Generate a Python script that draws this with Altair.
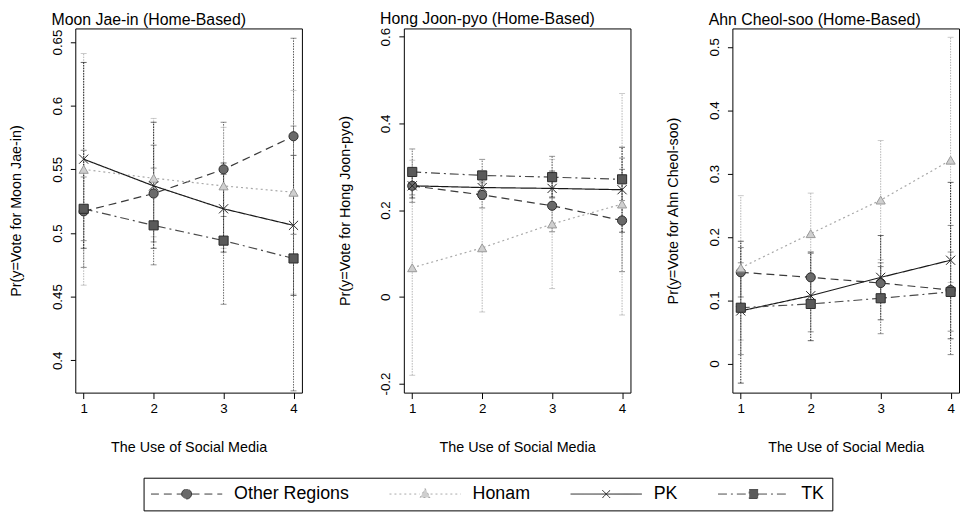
import altair as alt
import pandas as pd

# ---------------- data ----------------
X_LEVELS = [1, 2, 3, 4]
SERIES = ["Other Regions", "Honam", "PK", "TK"]
PANEL_TITLES = ["Moon Jae-in (Home-Based)", "Hong Joon-pyo (Home-Based)", "Ahn Cheol-soo (Home-Based)"]
Y_TITLES = ["Pr(y=Vote for Moon Jae-in)", "Pr(y=Vote for Hong Joon-pyo)", "Pr(y=Vote for Ahn Cheol-soo)"]
X_TITLE = "The Use of Social Media"

# Moon Jae-in
moon_other = [0.517, 0.531, 0.550, 0.576]
moon_other_lo = [0.473, 0.493, 0.513, 0.499]
moon_other_hi = [0.565, 0.569, 0.587, 0.653]
moon_honam = [0.550, 0.543, 0.537, 0.532]
moon_honam_lo = [0.459, 0.497, 0.488, 0.452]
moon_honam_hi = [0.641, 0.590, 0.583, 0.612]
moon_pk = [0.558, 0.537, 0.519, 0.506]
moon_pk_lo = [0.488, 0.488, 0.485, 0.451]
moon_pk_hi = [0.634, 0.587, 0.555, 0.561]
moon_tk = [0.519, 0.506, 0.494, 0.480]
moon_tk_lo = [0.494, 0.475, 0.444, 0.376]
moon_tk_hi = [0.544, 0.551, 0.546, 0.584]

# Hong Joon-pyo
hong_other = [0.256, 0.235, 0.210, 0.176]
hong_other_lo = [0.218, 0.205, 0.150, 0.058]
hong_other_hi = [0.294, 0.265, 0.270, 0.294]
hong_honam = [0.067, 0.113, 0.168, 0.214]
hong_honam_lo = [-0.181, -0.035, 0.019, -0.042]
hong_honam_hi = [0.315, 0.261, 0.317, 0.469]
hong_pk = [0.256, 0.252, 0.250, 0.247]
hong_pk_lo = [0.228, 0.225, 0.230, 0.149]
hong_pk_hi = [0.284, 0.280, 0.290, 0.345]
hong_tk = [0.288, 0.280, 0.276, 0.271]
hong_tk_lo = [0.235, 0.243, 0.228, 0.222]
hong_tk_hi = [0.341, 0.317, 0.324, 0.320]

# Ahn Cheol-soo
ahn_other = [0.144, 0.136, 0.127, 0.116]
ahn_other_lo = [0.105, 0.098, 0.100, 0.014]
ahn_other_hi = [0.183, 0.174, 0.153, 0.218]
ahn_honam = [0.151, 0.205, 0.258, 0.321]
ahn_honam_lo = [0.037, 0.140, 0.164, 0.128]
ahn_honam_hi = [0.265, 0.269, 0.352, 0.515]
ahn_pk = [0.083, 0.107, 0.136, 0.163]
ahn_pk_lo = [-0.031, 0.036, 0.069, 0.039]
ahn_pk_hi = [0.193, 0.176, 0.202, 0.286]
ahn_tk = [0.088, 0.094, 0.103, 0.113]
ahn_tk_lo = [0.014, 0.050, 0.047, 0.051]
ahn_tk_hi = [0.159, 0.138, 0.159, 0.176]

Y_DOMAINS = [[0.3746, 0.6607], [-0.221, 0.619], [-0.046, 0.529]]
Y_TICKS = [[0.4, 0.45, 0.5, 0.55, 0.6, 0.65], [-0.2, 0, 0.2, 0.4, 0.6], [0, 0.1, 0.2, 0.3, 0.4, 0.5]]

PANELS = [
    [(moon_other, moon_other_lo, moon_other_hi), (moon_honam, moon_honam_lo, moon_honam_hi),
     (moon_pk, moon_pk_lo, moon_pk_hi), (moon_tk, moon_tk_lo, moon_tk_hi)],
    [(hong_other, hong_other_lo, hong_other_hi), (hong_honam, hong_honam_lo, hong_honam_hi),
     (hong_pk, hong_pk_lo, hong_pk_hi), (hong_tk, hong_tk_lo, hong_tk_hi)],
    [(ahn_other, ahn_other_lo, ahn_other_hi), (ahn_honam, ahn_honam_lo, ahn_honam_hi),
     (ahn_pk, ahn_pk_lo, ahn_pk_hi), (ahn_tk, ahn_tk_lo, ahn_tk_hi)],
]

rows = []
for p, panel in enumerate(PANELS):
    for s, (ys, los, his) in zip(SERIES, panel):
        for x, y, lo, hi in zip(X_LEVELS, ys, los, his):
            rows.append({"panel": p, "series": s, "x": x, "y": y, "lo": lo, "hi": hi})
df = pd.DataFrame(rows)

# ---------------- styles ----------------
FONT = "Liberation Sans"
LINE_COLORS = ["#3a3a3a", "#a8a8a8", "#1a1a1a", "#4a4a4a"]
BAR_COLORS = ["#555555", "#b4b4b4", "#222222", "#666666"]
FILL_COLORS = ["#6a6a6a", "#cfcfcf", "#222222", "#5a5a5a"]
MARK_STROKES = ["#2a2a2a", "#999999", "#222222", "#2a2a2a"]
DASHES = [[8, 5], [2, 3], [1, 0], [9, 4, 2, 4]]
X_PATH = "M-1,-1L1,1M-1,1L1,-1"
SHAPES = ["circle", "triangle-up", X_PATH, "square"]

# legend symbols: line sample with the marker in the middle (unit = 5px)
LEG_PATHS = [
    "M-7.2,0H-1M1,0H7.2M1,0A1,1,0,1,1,-1,0A1,1,0,1,1,1,0Z",
    "M-7.2,0H-1.1M1.1,0H7.2M0,-1.1L1,0.7H-1Z",
    "M-7.2,0H7.2M-0.8,-0.8L0.8,0.8M-0.8,0.8L0.8,-0.8",
    "M-7.2,0H-0.9M0.9,0H7.2M-0.9,-0.9H0.9V0.9H-0.9Z",
]

legend = alt.Legend(
    title=None,
    orient="none",
    legendX=69,
    legendY=454,
    direction="horizontal",
    columns=4,
    columnPadding=38,
    labelFont=FONT,
    labelFontSize=18,
    labelColor="black",
    symbolSize=100,
    symbolOffset=27,
    labelOffset=39,
    symbolStrokeWidth=1,
    padding=7.5,
    strokeColor="black",
    fillColor="white",
    cornerRadius=0,
)

stroke_scale = alt.Scale(domain=SERIES, range=LINE_COLORS)
dash_scale = alt.Scale(domain=SERIES, range=DASHES)


def make_panel(i):
    d = df[df.panel == i]
    yscale = alt.Scale(domain=Y_DOMAINS[i], nice=False, zero=False)
    yaxis = alt.Axis(
        values=Y_TICKS[i], title=Y_TITLES[i], labelExpr="'' + datum.value",
        labelAngle=270, labelAlign="center", labelBaseline="bottom",
        labelFontSize=13.5, titleFontSize=14.5, labelFont=FONT, titleFont=FONT,
        titleFontWeight="normal", tickSize=5, labelPadding=6, titlePadding=27,
        grid=False, domain=False, tickColor="black", labelColor="black", titleColor="black",
    )
    xaxis = alt.Axis(
        values=X_LEVELS, format="d", title=X_TITLE, labelAngle=0,
        labelFontSize=13.5, titleFontSize=14.5, labelFont=FONT, titleFont=FONT,
        titleFontWeight="normal", tickSize=6, labelPadding=3, titlePadding=26,
        grid=False, domain=False, tickColor="black", labelColor="black", titleColor="black",
    )
    base = alt.Chart(d).encode(
        x=alt.X("x:Q", scale=alt.Scale(domain=[0.88, 4.12], nice=False, zero=False), axis=xaxis)
    )
    layers = []
    # error bars, one colour per region
    for k, s in enumerate(SERIES):
        sub = base.transform_filter(alt.datum.series == s)
        layers.append(sub.mark_rule(strokeWidth=1, strokeDash=[1.5, 1.2], color=BAR_COLORS[k]).encode(
            y=alt.Y("lo:Q", scale=yscale, axis=yaxis), y2="hi:Q"
        ))
        for f in ["lo", "hi"]:
            layers.append(sub.mark_tick(orient="horizontal", size=6, thickness=1, color=BAR_COLORS[k]).encode(
                y=alt.Y(f + ":Q", scale=yscale, axis=yaxis)
            ))
    # connecting lines
    layers.append(base.mark_line(strokeWidth=1.2).encode(
        y=alt.Y("y:Q", scale=yscale, axis=yaxis),
        stroke=alt.Stroke("series:N", scale=stroke_scale, legend=legend),
        strokeDash=alt.StrokeDash("series:N", scale=dash_scale, legend=legend),
        detail="series:N",
    ))
    # point markers
    for k, s in enumerate(SERIES):
        layers.append(
            base.transform_filter(alt.datum.series == s)
            .mark_point(shape=SHAPES[k], filled=True, size=85, opacity=1, strokeWidth=1,
                        fill=FILL_COLORS[k], stroke=MARK_STROKES[k])
            .encode(y=alt.Y("y:Q", scale=yscale, axis=yaxis))
        )
    # legend carrier: no rows, only gives the shared legend its symbols
    layers.append(
        base.transform_filter("false")
        .mark_point(filled=True, size=100, opacity=1, strokeWidth=1)
        .encode(
            y=alt.Y("y:Q", scale=yscale, axis=yaxis),
            shape=alt.Shape("series:N", scale=alt.Scale(domain=SERIES, range=LEG_PATHS), legend=legend),
            fill=alt.Fill("series:N", scale=alt.Scale(domain=SERIES, range=FILL_COLORS), legend=legend),
            stroke=alt.Stroke("series:N", scale=stroke_scale, legend=legend),
            strokeDash=alt.StrokeDash("series:N", scale=dash_scale, legend=legend),
        )
    )
    return alt.layer(*layers).properties(
        width=229,
        height=368,
        title=alt.TitleParams(
            PANEL_TITLES[i], anchor="start", frame="group", dx=-24, fontSize=16,
            font=FONT, fontWeight="normal", color="black", offset=0,
        ),
    )


chart = alt.hconcat(*[make_panel(i) for i in range(3)], spacing=34).properties(
    padding=0, background="white"
).configure_view(stroke="black", strokeWidth=1)

chart.save("out.html", embed_options={"renderer": "svg", "actions": False})
